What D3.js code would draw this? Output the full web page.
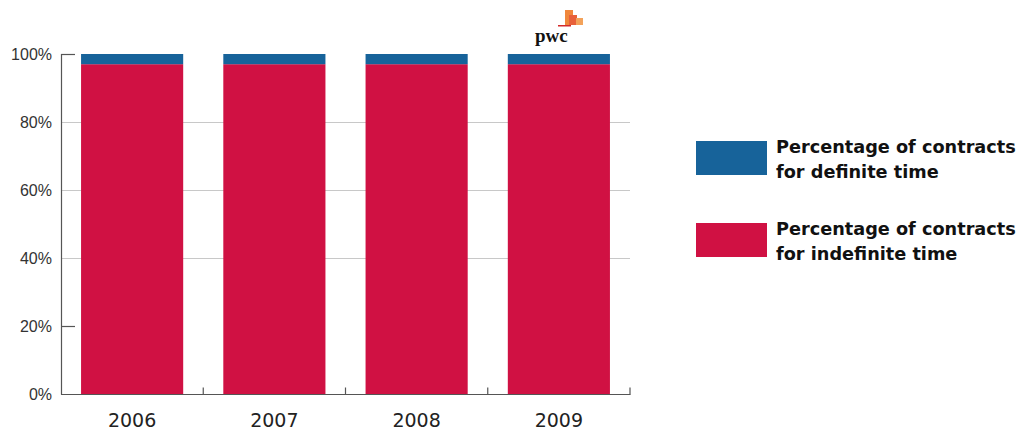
<!DOCTYPE html>
<html>
<head>
<meta charset="utf-8">
<script src="https://cdn.jsdelivr.net/npm/d3@7"></script>
<style>
  html, body { margin: 0; padding: 0; background: #fff; }
  svg { display: block; }
</style>
</head>
<body>
<svg id="chart" width="1022" height="432"></svg>
<script>
// Share of employment contracts by year
const years = ["2006", "2007", "2008", "2009"];
const indefinite = [97, 97, 97, 97];
const definite = [3, 3, 3, 3];
const yTicks = [0, 20, 40, 60, 80, 100];
const seriesNames = [
  ["Percentage of contracts", "for definite time"],
  ["Percentage of contracts", "for indefinite time"]
];

const colors = { definite: "#17639a", indefinite: "#d01143" };

const svg = d3.select("#chart");
const margin = { left: 61, right: 630, top: 54, bottom: 394 };

const x = d3.scaleBand().domain(years).range([margin.left, margin.right])
  .paddingInner(0.282).paddingOuter(0.141);
const y = d3.scaleLinear().domain([0, 100]).range([margin.bottom, margin.top]);

const rows = years.map((yr, i) => ({ year: yr, indefinite: indefinite[i], definite: definite[i] }));
const stacked = d3.stack().keys(["indefinite", "definite"])(rows);

// light gridlines at 40–80%
const g = svg.append("g");
g.selectAll("line.grid").data(yTicks.filter(t => t >= 40 && t <= 80)).join("line")
  .attr("x1", margin.left).attr("x2", margin.right)
  .attr("y1", d => y(d) + 0.5).attr("y2", d => y(d) + 0.5)
  .attr("stroke", "#c8c8c8").attr("stroke-width", 1.2);

// bars
stacked.forEach(layer => {
  g.selectAll(null).data(layer).join("rect")
    .attr("x", d => x(d.data.year))
    .attr("width", x.bandwidth())
    .attr("y", d => y(d[1]))
    .attr("height", d => y(d[0]) - y(d[1]))
    .attr("fill", colors[layer.key]);
});

// y axis line
g.append("line").attr("x1", margin.left + 0.5).attr("x2", margin.left + 0.5)
  .attr("y1", y(100)).attr("y2", y(0) + 0.5)
  .attr("stroke", "#555").attr("stroke-width", 1.2);
// short dark ticks at 20% and 100%
g.selectAll("line.tick").data([20, 100]).join("line")
  .attr("x1", margin.left).attr("x2", margin.left + 14)
  .attr("y1", d => y(d) + 0.5).attr("y2", d => y(d) + 0.5)
  .attr("stroke", "#555").attr("stroke-width", 1.2);

// y labels
g.selectAll("text.ylab").data(yTicks).join("text")
  .attr("x", 52).attr("y", d => y(d) + 6)
  .attr("text-anchor", "end")
  .attr("font-family", "Liberation Sans, Arial, sans-serif")
  .attr("font-size", 16).attr("fill", "#333")
  .text(d => d + "%");

// x axis with upward ticks at band boundaries
const bottom = y(0) + 0.5;
g.append("line").attr("x1", margin.left).attr("x2", margin.right + 0.5)
  .attr("y1", bottom).attr("y2", bottom)
  .attr("stroke", "#555").attr("stroke-width", 1.2);
const step = x.step();
const boundaries = years.map(yr => x(yr) + x.bandwidth() + step * x.paddingInner() / 2);
g.selectAll("line.xt").data(boundaries).join("line")
  .attr("x1", d => d).attr("x2", d => d)
  .attr("y1", bottom).attr("y2", bottom - 7)
  .attr("stroke", "#555").attr("stroke-width", 1.2);

g.selectAll("text.xlab").data(years).join("text")
  .attr("x", d => x(d) + x.bandwidth() / 2).attr("y", 427)
  .attr("text-anchor", "middle")
  .attr("font-family", "DejaVu Sans, sans-serif")
  .attr("font-size", 19).attr("fill", "#222")
  .text(d => d);

// legend
const legend = svg.append("g");
const legendItems = [
  { color: colors.definite, y: 141, lines: seriesNames[0] },
  { color: colors.indefinite, y: 223, lines: seriesNames[1] }
];
legendItems.forEach(item => {
  legend.append("rect").attr("x", 696).attr("y", item.y)
    .attr("width", 71).attr("height", 34).attr("fill", item.color);
  item.lines.forEach((t, j) => {
    legend.append("text").attr("x", 776).attr("y", item.y + 12 + j * 25)
      .attr("font-family", "DejaVu Sans, sans-serif")
      .attr("font-weight", "bold").attr("font-size", 17.7).attr("fill", "#111")
      .text(t);
  });
});

// logo mark
const logo = svg.append("g");
logo.append("rect").attr("x", 565).attr("y", 10).attr("width", 8).attr("height", 15).attr("fill", "#f0873c");
logo.append("rect").attr("x", 569).attr("y", 15).attr("width", 8).attr("height", 10).attr("fill", "#e8603a");
logo.append("rect").attr("x", 576).attr("y", 18).attr("width", 7).attr("height", 7).attr("fill", "#f3a25a");
logo.append("rect").attr("x", 558).attr("y", 25).attr("width", 13).attr("height", 1.5).attr("fill", "#d32a2a");
logo.append("text").attr("x", 535).attr("y", 42)
  .attr("font-family", "Liberation Serif, Times New Roman, serif")
  .attr("font-weight", "bold").attr("font-size", 19).attr("fill", "#111")
  .text("pwc");
</script>
</body>
</html>
